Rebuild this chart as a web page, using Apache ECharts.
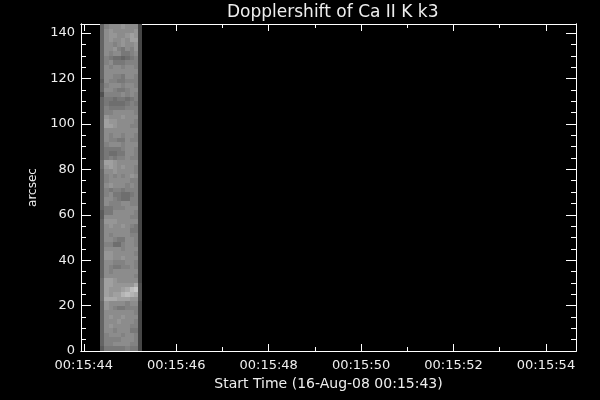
<!DOCTYPE html>
<html>
<head>
<meta charset="utf-8">
<style>html,body{margin:0;padding:0;background:#000}#c{width:600px;height:400px}</style>
<script src="https://cdn.jsdelivr.net/npm/echarts@6/dist/echarts.min.js"></script>
</head>
<body>
<div id="c"></div>
<script>
// Intensity levels (hex digit per exposure), top row = 144 arcsec
const intensityRows = [
"4788898881","4898888891","4899889A91","4898898AA1","4887898891","4889768791",
"4878866781","4765545671","4786667771","4878878871","4888888881","4887768871",
"3877667771","4788878871","4887667881","2777787871","4665665671","4655556761",
"4766667771","4778888871","4988898881","4A99888871","4AA9888771","4888888881",
"4878878871","4877668771","4788878881","4666678871","4655668871","4676778771",
"5AA9888881","59A9898871","4889888871","4787878981","4788888771","4898887871",
"4767767771","4786655671","4887655771","4877788771","4667778881","3668888871",
"3888888771","4999888881","4898898761","4888888661","4878888771","4887668871",
"4775578871","4888878881","4998888871","4998898881","4887778871","4876677871",
"4878888881","4888888871","5AA9888881","5AA99999B2","5A999ABDE2","5A9AACDCB2",
"5BBBAAA992","4988887881","4987667771","4888888871","4898898881","4888988871",
"4898888771","4887888661","4788878871","4777788871","4778888771","3666667661"
];
const firstExposure = 44.357;   // seconds after 00:15:00
const exposureStep = 0.0909;    // seconds per column
const rowStep = 2;              // arcsec per row
const xMajor = [44,46,48,50,52,54];
const xMinor = [45,47,49,51,53];
const yMajor = [0,20,40,60,80,100,120,140];
const yMinor = [5,10,15,25,30,35,45,50,55,65,70,75,85,90,95,105,110,115,125,130,135];
const xRange = [43.94,54.65];
const yRange = [0,144];
const titleText = "Dopplershift of Ca II K k3";
const xTitle = "Start Time (16-Aug-08 00:15:43)";
const yTitle = "arcsec";

const FG = "#eeeeee";
const FONT = "DejaVu Sans";
const cells = [];
intensityRows.forEach((row, r) => {
  const y0 = (intensityRows.length - 1 - r) * rowStep;
  row.split("").forEach((ch, c) => {
    cells.push([firstExposure + c * exposureStep, y0, parseInt(ch, 16)]);
  });
});
function xAxisOf(pos, ticks, len, labels) {
  return {
    type: "value", position: pos, min: xRange[0], max: xRange[1], scale: true,
    axisLine: { show: true, onZero: false, lineStyle: { color: "#fff", width: 1 } },
    axisTick: { show: true, inside: true, length: len, customValues: ticks, lineStyle: { color: "#fff", width: 1 } },
    axisLabel: labels ? { show: true, customValues: xMajor, color: FG, fontFamily: FONT, fontSize: 13, margin: 8,
      formatter: v => "00:15:" + v } : { show: false },
    splitLine: { show: false }
  };
}
function yAxisOf(pos, ticks, len, labels) {
  return {
    type: "value", position: pos, min: yRange[0], max: yRange[1],
    axisLine: { show: true, onZero: false, lineStyle: { color: "#fff", width: 1 } },
    axisTick: { show: true, inside: true, length: len, customValues: ticks, lineStyle: { color: "#fff", width: 1 } },
    axisLabel: labels ? { show: true, customValues: yMajor, color: FG, fontFamily: FONT, fontSize: 13, margin: 6 } : { show: false },
    splitLine: { show: false }
  };
}
const xa = xAxisOf("bottom", xMajor, 7, true);
xa.name = xTitle; xa.nameLocation = "middle"; xa.nameGap = 24;
xa.nameTextStyle = { color: FG, fontFamily: FONT, fontSize: 14 };
const ya = yAxisOf("left", yMajor, 10, true);
ya.name = yTitle; ya.nameLocation = "middle"; ya.nameGap = 37; ya.nameRotate = 90;
ya.nameTextStyle = { color: FG, fontFamily: FONT, fontSize: 12 };

const chart = echarts.init(document.getElementById("c"), null, { renderer: "canvas" });
chart.setOption({
  backgroundColor: "#000",
  animation: false,
  title: { text: titleText, left: 222, top: -1, textStyle: { color: FG, fontFamily: FONT, fontSize: 17, fontWeight: "normal" } },
  grid: { left: 81, right: 24, top: 24, bottom: 49 },
  xAxis: [xa, xAxisOf("bottom", xMinor, 4, false), xAxisOf("top", xMajor, 7, false), xAxisOf("top", xMinor, 4, false)],
  yAxis: [ya, yAxisOf("left", yMinor, 5, false), yAxisOf("right", yMajor, 10, false), yAxisOf("right", yMinor, 5, false)],
  series: [{
    type: "custom", xAxisIndex: 0, yAxisIndex: 0, clip: true, silent: true,
    data: cells,
    encode: { x: 0, y: 1 },
    renderItem: (params, api) => {
      const a = api.coord([api.value(0), api.value(1) + rowStep]);
      const b = api.coord([api.value(0) + exposureStep, api.value(1)]);
      const g = 60 + api.value(2) * 10;
      const x0 = Math.round(a[0]), y0 = Math.round(a[1]);
      return { type: "rect",
        shape: { x: x0, y: y0, width: Math.round(b[0]) - x0, height: Math.round(b[1]) - y0 },
        style: { fill: `rgb(${g},${g},${g})` } };
    }
  }]
});
</script>
</body>
</html>
